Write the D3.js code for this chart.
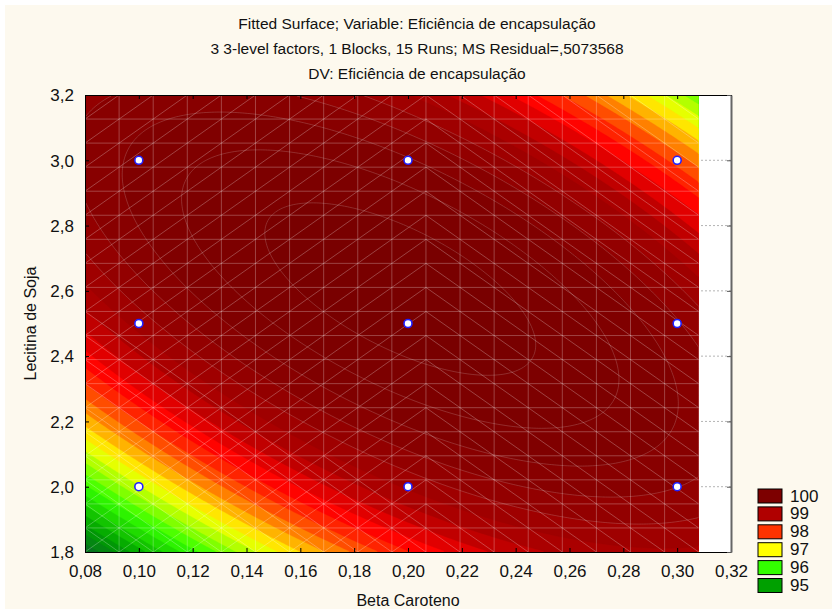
<!DOCTYPE html>
<html>
<head>
<meta charset="utf-8">
<script src="https://cdn.jsdelivr.net/npm/d3@7"></script>
<style>
  body { margin: 0; background: #fff; }
  text { font-family: "Liberation Sans", Arial, sans-serif; fill: #111; }
</style>
</head>
<body>
<svg id="chart" width="832" height="612"></svg>
<script>
// ---- chart content ----
const titleLines = [
  "Fitted Surface; Variable: Eficiência de encapsulação",
  "3 3-level factors, 1 Blocks, 15 Runs; MS Residual=,5073568",
  "DV: Eficiência de encapsulação"
];
const xLabel = "Beta Caroteno";
const yLabel = "Lecitina de Soja";
const xTicks = [0.08, 0.10, 0.12, 0.14, 0.16, 0.18, 0.20, 0.22, 0.24, 0.26, 0.28, 0.30, 0.32];
const yTicks = [1.8, 2.0, 2.2, 2.4, 2.6, 2.8, 3.0, 3.2];

// design points (Beta Caroteno, Lecitina de Soja)
const designBeta     = [0.10, 0.10, 0.10, 0.20, 0.20, 0.20, 0.30, 0.30, 0.30];
const designLecitina = [2.00, 2.50, 3.00, 2.00, 2.50, 3.00, 2.00, 2.50, 3.00];

// fitted quadratic in coded units u = (B - 0.2)/0.1, v = (L - 2.5)/0.5
const modelTerms = ["1", "u", "v", "u²", "v²", "u·v"];
const modelCoef  = [100.62, 0.214, 0.367, -1.057, -0.959, -1.303];

// extent over which the fitted surface is evaluated
const surfaceBeta     = [0.08, 0.308];
const surfaceLecitina = [1.8, 3.2];

// legend
const legendLevels = [100, 99, 98, 97, 96, 95];
const legendColors = ["#7d0000", "#b00000", "#ff3300", "#ffff00", "#33ff00", "#00a000"];

// continuous palette for the fine contour bands
const paletteStops  = [94, 95, 96, 97, 98, 98.4, 99, 100, 101];
const paletteColors = ["#0b5a30", "#00a000", "#33ff00", "#ffff00", "#ff3300", "#ff0000", "#b00000", "#820000", "#740000"];
const bandStep = 0.25;

// ---- drawing ----
const svg = d3.select("#chart");
const W = 832, H = 612;
const L = 85, R = 731, T = 95, B = 552;

svg.append("rect").attr("width", W).attr("height", H).attr("fill", "#fff");
svg.append("rect").attr("x", 5).attr("y", 5).attr("width", W - 5).attr("height", H - 8).attr("fill", "#fdf9ee");

const x = d3.scaleLinear().domain([xTicks[0], xTicks[xTicks.length - 1]]).range([L, R]);
const y = d3.scaleLinear().domain([yTicks[0], yTicks[yTicks.length - 1]]).range([B, T]);

function model(b, l) {
  const u = (b - 0.2) / 0.1, v = (l - 2.5) / 0.5;
  const t = [1, u, v, u * u, v * v, u * v];
  return d3.sum(t, (d, i) => d * modelCoef[i]);
}

// plot background and dotted grid
svg.append("rect").attr("x", L).attr("y", T).attr("width", R - L).attr("height", B - T).attr("fill", "#fff");
svg.append("g").selectAll("line").data(yTicks.slice(1, -1)).join("line")
  .attr("x1", L).attr("x2", R).attr("y1", d => y(d)).attr("y2", d => y(d))
  .attr("stroke", "#b4b4b4").attr("stroke-dasharray", "2,2");

svg.append("clipPath").attr("id", "plotclip").append("rect")
  .attr("x", x(surfaceBeta[0])).attr("y", T)
  .attr("width", x(surfaceBeta[1]) - x(surfaceBeta[0])).attr("height", B - T);

// evaluate the surface on a fine grid and build filled contour bands
const nx = 240, ny = 220;
const dx = (surfaceBeta[1] - surfaceBeta[0]) / nx;
const dy = (surfaceLecitina[1] - surfaceLecitina[0]) / ny;
const values = new Array(nx * ny);
for (let j = 0; j < ny; j++) for (let i = 0; i < nx; i++)
  values[j * nx + i] = model(surfaceBeta[0] + (i + 0.5) * dx, surfaceLecitina[0] + (j + 0.5) * dy);
const thresholds = d3.range(92, 101.5 + 1e-9, bandStep);
const contours = d3.contours().size([nx, ny]).thresholds(thresholds)(values);
const proj = d3.geoTransform({
  point(px, py) { this.stream.point(x(surfaceBeta[0] + px * dx), y(surfaceLecitina[0] + py * dy)); }
});
const path = d3.geoPath(proj);
const color = d3.scaleLinear().domain(paletteStops).range(paletteColors).clamp(true);

const surf = svg.append("g").attr("clip-path", "url(#plotclip)");
surf.selectAll("path.band").data(contours).join("path")
  .attr("class", "band").attr("d", path)
  .attr("fill", d => color(d.value + bandStep / 2))
  .attr("stroke", d => color(d.value + bandStep / 2)).attr("stroke-width", 0.4);

// faint level lines on the plateau
surf.selectAll("path.level").data(contours.filter(d => d.value >= 99.5)).join("path")
  .attr("class", "level").attr("d", path).attr("fill", "none")
  .attr("stroke", "#fff").attr("stroke-opacity", 0.22).attr("stroke-width", 0.8);

// wire mesh of the surface
const meshX = 18, meshY = 19;
const cw = (surfaceBeta[1] - surfaceBeta[0]) / meshX;
const ch = (surfaceLecitina[1] - surfaceLecitina[0]) / meshY;
const mesh = [];
for (let i = 1; i < meshX; i++) { const b = surfaceBeta[0] + i * cw; mesh.push([b, surfaceLecitina[0], b, surfaceLecitina[1]]); }
for (let j = 1; j < meshY; j++) { const l = surfaceLecitina[0] + j * ch; mesh.push([surfaceBeta[0], l, surfaceBeta[1], l]); }
for (let i = 0; i < meshX; i++) for (let j = 0; j < meshY; j++) {
  const b0 = surfaceBeta[0] + i * cw, b1 = b0 + cw, l0 = surfaceLecitina[0] + j * ch, l1 = l0 + ch;
  const bc = (b0 + b1) / 2, lc = (l0 + l1) / 2, left = bc < 0.207;
  if (left) mesh.push([b0, l0, b1, l1]);
  if (!left || model(bc, lc) < 99.2) mesh.push([b0, l1, b1, l0]);
}
surf.append("g").selectAll("line").data(mesh).join("line")
  .attr("x1", d => x(d[0])).attr("y1", d => y(d[1])).attr("x2", d => x(d[2])).attr("y2", d => y(d[3]))
  .attr("stroke", "#fff").attr("stroke-opacity", 0.26).attr("stroke-width", 1);

// design points
svg.append("g").selectAll("circle").data(designBeta).join("circle")
  .attr("cx", d => x(d)).attr("cy", (d, i) => y(designLecitina[i]))
  .attr("r", 4).attr("fill", "#fff").attr("stroke", "#1f1fff").attr("stroke-width", 1.6);

// axes
const fmt = d => d3.format(".2f")(d).replace(".", ",");
const fmtY = d => d3.format(".1f")(d).replace(".", ",");
const xAxis = svg.append("g").attr("transform", `translate(0,${B})`)
  .call(d3.axisBottom(x).tickValues(xTicks).tickSizeInner(-4).tickSizeOuter(0).tickFormat(fmt));
xAxis.selectAll("text").attr("y", 25).attr("dy", 0).style("font-size", "17px");
const yAxis = svg.append("g").attr("transform", `translate(${L},0)`)
  .call(d3.axisLeft(y).tickValues(yTicks).tickSizeInner(-4).tickSizeOuter(0).tickFormat(fmtY));
yAxis.selectAll("text").attr("x", -11).attr("dy", "0.34em").style("font-size", "17px");
const topAxis = svg.append("g").attr("transform", `translate(0,${T})`)
  .call(d3.axisTop(x).tickValues(xTicks).tickSizeInner(-4).tickSizeOuter(0).tickFormat(""));
const rightAxis = svg.append("g").attr("transform", `translate(${R},0)`)
  .call(d3.axisRight(y).tickValues(yTicks).tickSizeInner(-4).tickSizeOuter(0).tickFormat(""));
[xAxis, yAxis, topAxis].forEach(g => g.selectAll("path, line").attr("stroke", "#000"));
rightAxis.selectAll("path").attr("stroke", "#666").attr("stroke-width", 2);
rightAxis.selectAll("line").attr("stroke", "#555");

// titles
svg.append("g").selectAll("text").data(titleLines).join("text")
  .attr("x", 417).attr("y", (d, i) => 29 + i * 25)
  .attr("text-anchor", "middle").style("font-size", "15.5px").text(d => d);
svg.append("text").attr("x", (L + R) / 2).attr("y", 606)
  .attr("text-anchor", "middle").style("font-size", "16px").text(xLabel);
svg.append("text").attr("transform", `translate(36,${(T + B) / 2}) rotate(-90)`)
  .attr("text-anchor", "middle").style("font-size", "16px").text(yLabel);

// legend
const lg = svg.append("g");
lg.selectAll("rect").data(legendLevels).join("rect")
  .attr("x", 758).attr("y", (d, i) => 489 + i * 17.9).attr("width", 24).attr("height", 14)
  .attr("fill", (d, i) => legendColors[i]).attr("stroke", "#000").attr("stroke-width", 1);
lg.selectAll("text").data(legendLevels).join("text")
  .attr("x", 790).attr("y", (d, i) => 489 + i * 17.9 + 12.5).style("font-size", "17px").text(d => d);
</script>
</body>
</html>
